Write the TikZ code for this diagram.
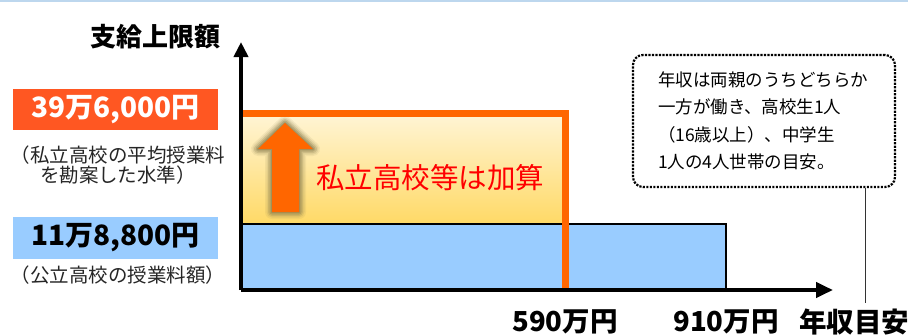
\documentclass[tikz,border=0pt]{standalone}
\usepackage{fontspec}
\setmainfont{Noto Sans CJK JP}
\usetikzlibrary{arrows.meta}
\definecolor{topblue}{HTML}{BDD7EE}
\definecolor{axisorange}{HTML}{FF6600}
\definecolor{valorange}{HTML}{FF5722}
\definecolor{valblue}{HTML}{99CCFF}
\definecolor{yeltop}{HTML}{FFF4D2}
\definecolor{yelbot}{HTML}{FFD966}
\definecolor{glowcol}{HTML}{8C8050}
\definecolor{notegray}{HTML}{262626}
\tikzset{
  axisline/.style={line width=4pt,black},
  valbox/.style={minimum width=205pt,minimum height=41pt,inner sep=0pt,font=\fontsize{28}{30}\selectfont\bfseries},
  notetext/.style={align=center,text=notegray,font=\fontsize{19.5}{20}\selectfont},
  axislabel/.style={font=\fontsize{27.5}{30}\selectfont\bfseries,inner sep=0pt},
  callbox/.style={draw=black,line width=2.2pt,dash pattern=on 2.2pt off 1.3pt,rounded corners=10pt,
    minimum width=262pt,minimum height=132pt,text width=212pt,inner xsep=25pt,align=left,
    font=\fontsize{17.5}{27.5}\selectfont},
  uparrow/.style={fill=axisorange}
}
\begin{document}
\begin{tikzpicture}[x=1pt,y=-1pt]
\useasboundingbox (0,0) rectangle (908,335);
\fill[white] (0,0) rectangle (908,335);
\draw[topblue,line width=2pt] (0,1) -- (908,1);

% coordinates
\coordinate (O) at (241,290);
\coordinate (ytip) at (241,42);
\coordinate (xtip) at (833,290);

% yellow area
\shade[top color=yeltop,bottom color=yelbot] (243,117) rectangle (563,224);
% blue area
\draw[fill=valblue,line width=1.6pt] (242,224) rectangle (726,290);

% glow arrow
\foreach \w/\o in {14/0.10,11/0.15,8/0.25,5/0.35,2/0.5}{
  \draw[glowcol,line width=\w pt,opacity=\o,line join=round]
    (285,123) -- (313,149) -- (299,149) -- (299,212) -- (272,212) -- (272,149) -- (258,149) -- cycle;
}
\fill[uparrow] (285,123) -- (313,149) -- (299,149) -- (299,212) -- (272,212) -- (272,149) -- (258,149) -- cycle;

% orange limit line
\draw[axisorange,line width=7pt,line join=miter] (243,113.5) -- (565,113.5) -- (565,290);

% axes
\draw[axisline,-{Triangle[length=15pt,width=14pt]}] (O) -- (ytip);
\draw[axisline,-{Triangle[length=17pt,width=15pt]}] (O) -- (xtip);

% center text
\node[text=red,font=\fontsize{28.5}{30}\selectfont,inner sep=0pt] (addtext) at (430,178) {私立高校等は加算};

% left labels
\node[font=\fontsize{26}{30}\selectfont\bfseries,inner sep=0pt] (ylabel) at (155,37) {支給上限額};
\node[valbox,fill=valorange,text=white] (v1) at (115.5,109.5) {39万6,000円};
\node[notetext] (n1) at (118,165) {（私立高校の平均授業料\\を勘案した水準）};
\node[valbox,fill=valblue,text=black,minimum height=42pt] (v2) at (115.5,238) {11万8,800円};
\node[notetext] (n2) at (118,275) {（公立高校の授業料額）};

% x labels
\node[axislabel] (x1) at (565,322) {590万円};
\node[axislabel] (x2) at (726,322) {910万円};
\node[axislabel] (xl) at (854,322) {年収目安};

% callout
\node[callbox] (call) at (764,121) {年収は両親のうちどちらか\\一方が働き、高校生1人\\（16歳以上）、中学生\\1人の4人世帯の目安。};
\coordinate (tailend) at (865,303);
\draw[line width=1pt,black!80] (tailend |- call.south) -- (tailend);
\end{tikzpicture}
\end{document}
